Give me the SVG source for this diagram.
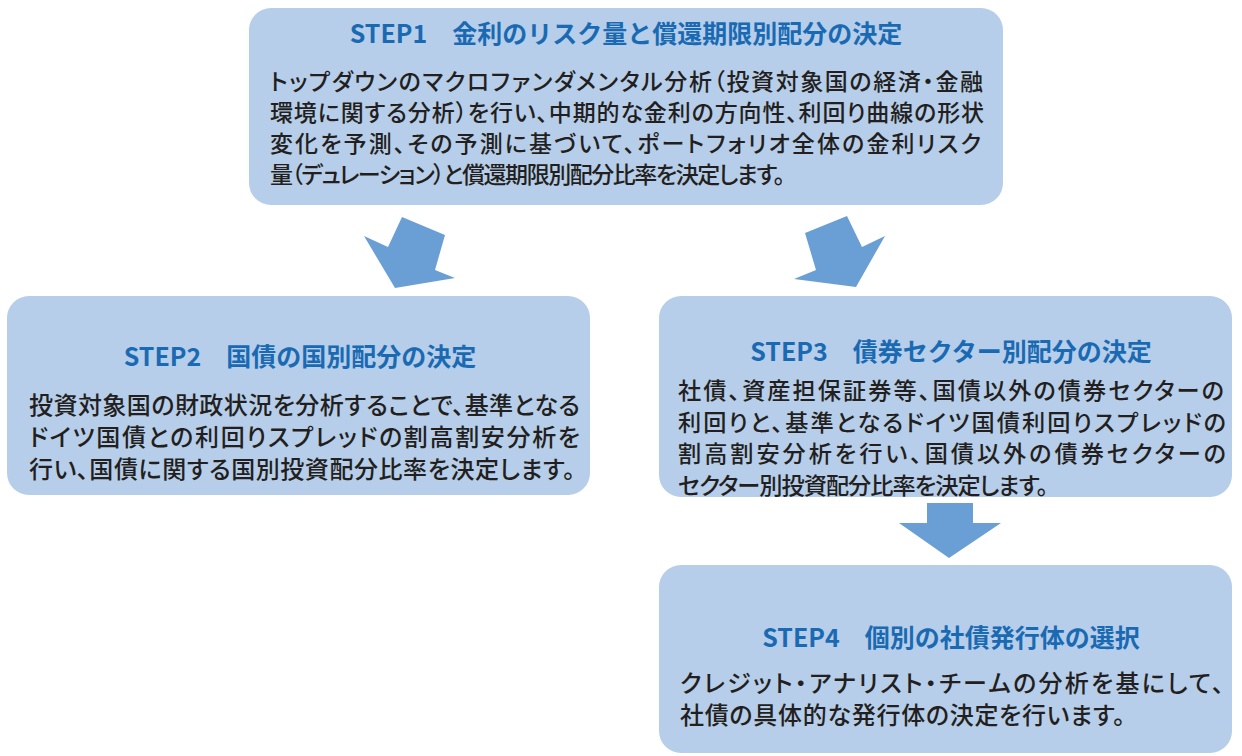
<svg xmlns="http://www.w3.org/2000/svg" width="1242" height="756" viewBox="0 0 1242 756">
<defs>
<style>
.box{fill:#b6cee9;}
.arrow{fill:#6a9fd6;}
.title{font-family:"Noto Sans CJK JP","Noto Sans",sans-serif;font-size:25px;font-weight:bold;fill:#1a6ab3;text-anchor:middle;}
.body{font-family:"Noto Sans CJK JP","Noto Sans",sans-serif;font-size:24px;font-weight:500;fill:#231f20;font-feature-settings:"palt";}
.b1{font-size:23px;}
.b3{font-size:23.2px;}
</style>
</defs>
<rect width="1242" height="756" fill="#ffffff"/>
<g id="connectors">
<polygon class="arrow" points="364,236 388,247 402,217 445,235 435,270 455,278 395,288"/>
<polygon class="arrow" points="794,279 816,270 805,233 847,216 862,247 885,236 856,287"/>
<polygon class="arrow" points="927,503 973,503 973,523 1001,523 949,558 899,523 927,523"/>
</g>
<g id="step1">
<rect class="box" x="249" y="8" width="754" height="197" rx="22"/>
<text class="title" x="626" y="43">STEP1　金利のリスク量と償還期限別配分の決定</text>
<text class="body b1" x="270" y="90" textLength="713">トップダウンのマクロファンダメンタル分析（投資対象国の経済・金融</text>
<text class="body b1" x="270" y="121" textLength="714">環境に関する分析）を行い、中期的な金利の方向性、利回り曲線の形状</text>
<text class="body b1" x="270" y="152" textLength="711">変化を予測、その予測に基づいて、ポートフォリオ全体の金利リスク</text>
<text class="body b1" x="270" y="183" textLength="515">量（デュレーション）と償還期限別配分比率を決定します。</text>
</g>
<g id="step2">
<rect class="box" x="7" y="296" width="583" height="199" rx="22"/>
<text class="title" x="300" y="366">STEP2　国債の国別配分の決定</text>
<text class="body" x="29" y="414" textLength="551">投資対象国の財政状況を分析することで、基準となる</text>
<text class="body" x="29" y="446" textLength="551">ドイツ国債との利回りスプレッドの割高割安分析を</text>
<text class="body" x="29" y="478" textLength="546">行い、国債に関する国別投資配分比率を決定します。</text>
</g>
<g id="step3">
<rect class="box" x="659" y="296" width="573" height="201" rx="22"/>
<text class="title" x="951" y="361">STEP3　債券セクター別配分の決定</text>
<text class="body b3" x="678" y="399" textLength="546">社債、資産担保証券等、国債以外の債券セクターの</text>
<text class="body b3" x="678" y="430.5" textLength="548">利回りと、基準となるドイツ国債利回りスプレッドの</text>
<text class="body b3" x="678" y="462" textLength="548">割高割安分析を行い、国債以外の債券セクターの</text>
<text class="body b3" x="678" y="493.5" textLength="370">セクター別投資配分比率を決定します。</text>
</g>
<g id="step4">
<rect class="box" x="659" y="565" width="573" height="188" rx="22"/>
<text class="title" x="951" y="647">STEP4　個別の社債発行体の選択</text>
<text class="body" x="680" y="692" textLength="544">クレジット・アナリスト・チームの分析を基にして、</text>
<text class="body" x="680" y="724" textLength="445">社債の具体的な発行体の決定を行います。</text>
</g>
</svg>
